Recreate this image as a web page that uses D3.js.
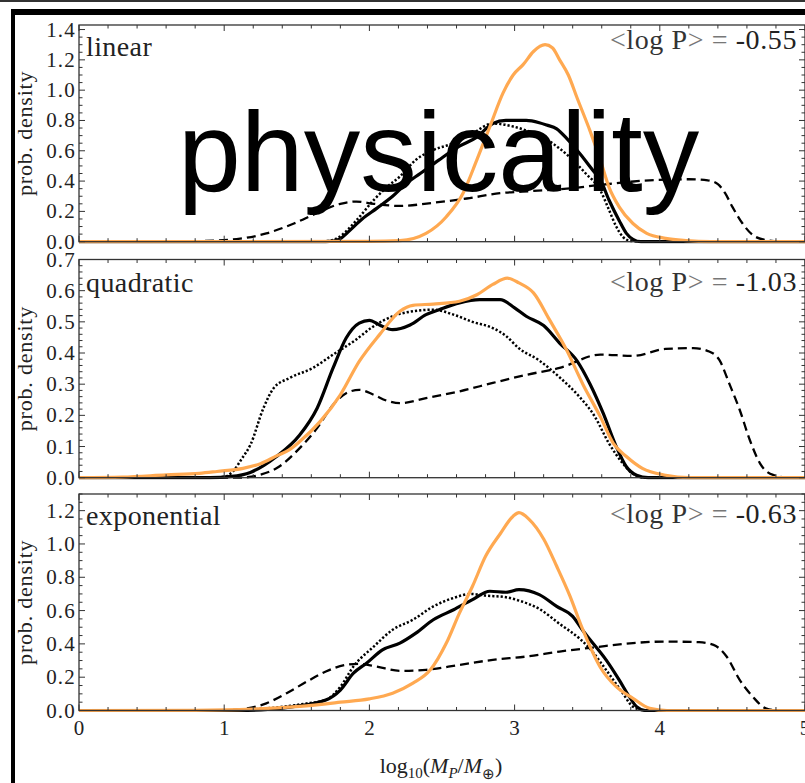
<!DOCTYPE html>
<html><head><meta charset="utf-8">
<script src="https://cdn.jsdelivr.net/npm/d3@7"></script>
<style>body{margin:0;background:#fff}svg{display:block}</style>
</head><body>
<svg id="chart" width="805" height="783"></svg>
<script>
// ---------- data ----------
const xTickValues = [0, 1, 2, 3, 4, 5];
const panelNames = ["linear", "quadratic", "exponential"];
const meanLogP = ["-0.55", "-1.03", "-0.63"];
const yDomainMax = [1.43, 0.7, 1.3];
const yMajorStep = [0.2, 0.1, 0.2];
const yMajorMax = [1.4, 0.7, 1.2];
const yMinorStep = [0.05, 0.02, 0.05];

const linearDashed = [[0,0],[0.6,0],[0.83,0.004],[1.11,0.02],[1.29,0.055],[1.48,0.12],[1.64,0.19],[1.80,0.25],[1.91,0.265],[2.03,0.25],[2.21,0.236],[2.44,0.257],[2.67,0.285],[2.90,0.32],[3.13,0.335],[3.36,0.35],[3.59,0.375],[3.93,0.405],[4.20,0.412],[4.33,0.405],[4.40,0.38],[4.45,0.32],[4.50,0.23],[4.57,0.12],[4.64,0.044],[4.73,0.011],[4.85,0],[5,0]];
const linearDotted = [[0,0],[1.6,0],[1.72,0.005],[1.79,0.03],[1.91,0.14],[2.03,0.275],[2.12,0.36],[2.21,0.43],[2.32,0.54],[2.44,0.605],[2.58,0.65],[2.71,0.715],[2.85,0.78],[2.99,0.76],[3.13,0.715],[3.26,0.65],[3.36,0.575],[3.49,0.45],[3.59,0.34],[3.65,0.21],[3.70,0.10],[3.745,0.033],[3.80,0.005],[3.9,0],[5,0]];
const linearSolid = [[0,0],[1.65,0],[1.75,0.004],[1.80,0.02],[1.86,0.07],[1.95,0.15],[2.05,0.22],[2.16,0.30],[2.255,0.385],[2.35,0.45],[2.48,0.54],[2.62,0.63],[2.74,0.69],[2.85,0.78],[2.94,0.80],[3.08,0.80],[3.17,0.785],[3.22,0.77],[3.29,0.745],[3.36,0.68],[3.45,0.58],[3.54,0.47],[3.59,0.41],[3.65,0.275],[3.72,0.14],[3.77,0.055],[3.815,0.016],[3.87,0],[5,0]];
const linearOrange = [[0,0],[2.0,0.002],[2.21,0.007],[2.39,0.055],[2.53,0.165],[2.645,0.32],[2.74,0.54],[2.83,0.76],[2.92,0.98],[2.99,1.10],[3.06,1.17],[3.13,1.255],[3.21,1.30],[3.26,1.28],[3.31,1.20],[3.37,1.10],[3.43,0.95],[3.52,0.73],[3.59,0.54],[3.65,0.36],[3.72,0.23],[3.815,0.12],[3.91,0.055],[4.04,0.022],[4.18,0.007],[4.35,0],[5,0]];

const quadDashed = [[0,0],[1.1,0],[1.25,0.01],[1.36,0.03],[1.52,0.095],[1.64,0.159],[1.75,0.234],[1.84,0.271],[1.93,0.282],[2.03,0.266],[2.12,0.247],[2.21,0.239],[2.39,0.255],[2.62,0.277],[2.85,0.304],[3.08,0.33],[3.31,0.352],[3.59,0.395],[3.815,0.391],[4.04,0.413],[4.23,0.416],[4.34,0.405],[4.41,0.378],[4.48,0.30],[4.55,0.218],[4.62,0.121],[4.69,0.046],[4.78,0.009],[4.9,0],[5,0]];
const quadDotted = [[0,0],[0.9,0],[1.0,0.003],[1.06,0.02],[1.12,0.06],[1.18,0.105],[1.27,0.223],[1.34,0.287],[1.45,0.32],[1.61,0.352],[1.75,0.395],[1.89,0.437],[2.03,0.486],[2.16,0.518],[2.30,0.534],[2.44,0.539],[2.58,0.523],[2.71,0.50],[2.85,0.48],[2.94,0.455],[3.03,0.415],[3.17,0.376],[3.31,0.322],[3.44,0.263],[3.55,0.198],[3.65,0.11],[3.745,0.046],[3.815,0.012],[3.9,0],[5,0]];
const quadSolid = [[0,0],[0.9,0],[1.05,0.004],[1.18,0.017],[1.36,0.068],[1.52,0.137],[1.64,0.223],[1.75,0.352],[1.84,0.448],[1.93,0.496],[2.00,0.505],[2.07,0.49],[2.16,0.475],[2.28,0.49],[2.39,0.523],[2.48,0.539],[2.62,0.561],[2.76,0.571],[2.90,0.571],[3.00,0.545],[3.08,0.518],[3.20,0.488],[3.31,0.432],[3.43,0.375],[3.52,0.30],[3.61,0.207],[3.70,0.10],[3.77,0.035],[3.84,0.008],[3.92,0],[5,0]];
const quadOrange = [[0,0],[0.3,0.002],[0.6,0.009],[0.83,0.014],[0.95,0.02],[1.13,0.03],[1.25,0.045],[1.36,0.07],[1.45,0.09],[1.52,0.116],[1.66,0.18],[1.80,0.266],[1.93,0.373],[2.07,0.459],[2.21,0.534],[2.30,0.553],[2.44,0.557],[2.62,0.566],[2.74,0.587],[2.85,0.62],[2.95,0.64],[3.03,0.625],[3.13,0.593],[3.24,0.507],[3.36,0.408],[3.47,0.30],[3.59,0.196],[3.68,0.11],[3.77,0.068],[3.88,0.03],[4.04,0.008],[4.2,0],[5,0]];

const expDashed = [[0,0],[0.9,0],[1.06,0.004],[1.29,0.043],[1.43,0.104],[1.57,0.174],[1.70,0.234],[1.84,0.274],[1.93,0.28],[2.05,0.264],[2.21,0.238],[2.39,0.244],[2.62,0.274],[2.85,0.304],[3.08,0.324],[3.31,0.354],[3.54,0.378],[3.815,0.405],[4.04,0.414],[4.27,0.41],[4.37,0.394],[4.46,0.324],[4.55,0.184],[4.64,0.083],[4.73,0.013],[4.82,0],[5,0]];
const expDotted = [[0,0],[1.0,0],[1.1,0.003],[1.41,0.023],[1.55,0.04],[1.70,0.063],[1.80,0.143],[1.89,0.264],[2.03,0.384],[2.16,0.485],[2.30,0.545],[2.44,0.625],[2.58,0.676],[2.70,0.70],[2.80,0.69],[2.94,0.68],[3.03,0.66],[3.17,0.61],[3.31,0.52],[3.45,0.43],[3.52,0.37],[3.63,0.244],[3.745,0.104],[3.815,0.023],[3.9,0],[5,0]];
const expSolid = [[0,0],[1.1,0],[1.3,0.006],[1.475,0.023],[1.70,0.063],[1.80,0.123],[1.89,0.224],[1.98,0.284],[2.09,0.364],[2.21,0.405],[2.32,0.465],[2.44,0.545],[2.58,0.605],[2.71,0.666],[2.83,0.716],[2.94,0.71],[3.03,0.726],[3.17,0.696],[3.29,0.625],[3.40,0.565],[3.47,0.48],[3.52,0.425],[3.63,0.304],[3.72,0.184],[3.79,0.083],[3.84,0.023],[3.9,0],[5,0]];
const expOrange = [[0,0],[0.8,0.001],[1.2,0.008],[1.52,0.025],[1.80,0.05],[2.00,0.07],[2.16,0.104],[2.30,0.164],[2.42,0.244],[2.53,0.405],[2.62,0.585],[2.71,0.746],[2.80,0.926],[2.90,1.06],[2.99,1.167],[3.03,1.188],[3.10,1.148],[3.20,1.03],[3.29,0.866],[3.38,0.69],[3.47,0.485],[3.59,0.26],[3.70,0.143],[3.815,0.073],[3.93,0.013],[4.05,0],[5,0]];

const panelSeries = [
  [linearDashed, linearDotted, linearSolid, linearOrange],
  [quadDashed, quadDotted, quadSolid, quadOrange],
  [expDashed, expDotted, expSolid, expOrange]
];

// ---------- layout / style ----------
const W = 805, H = 783;
const plotLeft = 79, plotRight = 805;
const panelBox = [[25, 241.7], [259.5, 477.7], [494, 710.5]];
const seriesStyle = [
  {stroke: "#000", width: 2.3, dash: "9,5"},
  {stroke: "#000", width: 2.5, dash: "2.2,2"},
  {stroke: "#000", width: 3.2, dash: null},
  {stroke: "#ffa951", width: 3.2, dash: null}
];
const serif = "'Liberation Serif','Times New Roman',serif";
const frameColor = "#333";

const svg = d3.select("#chart");
svg.append("rect").attr("width", W).attr("height", H).attr("fill", "#fff");

const x = d3.scaleLinear().domain([0, 5]).range([plotLeft, plotRight]);

const defs = svg.append("defs");

panelSeries.forEach((series, i) => {
  const [top, bottom] = panelBox[i];
  const y = d3.scaleLinear().domain([0, yDomainMax[i]]).range([bottom, top]);
  const g = svg.append("g");

  defs.append("clipPath").attr("id", "clip" + i)
    .append("rect").attr("x", plotLeft).attr("y", top - 2)
    .attr("width", plotRight - plotLeft).attr("height", bottom - top + 4);

  // curves
  const line = d3.line().x(d => x(d[0])).y(d => y(d[1])).curve(d3.curveMonotoneX);
  const cg = g.append("g").attr("clip-path", `url(#clip${i})`);
  series.forEach((s, k) => {
    const st = seriesStyle[k];
    cg.append("path").datum(s).attr("d", line)
      .attr("fill", "none").attr("stroke", st.stroke)
      .attr("stroke-width", st.width)
      .attr("stroke-linejoin", "round")
      .attr("stroke-dasharray", st.dash);
  });

  // frame
  g.append("rect").attr("x", plotLeft).attr("y", top)
    .attr("width", plotRight - plotLeft).attr("height", bottom - top)
    .attr("fill", "none").attr("stroke", frameColor).attr("stroke-width", 1.3);

  // x ticks (top and bottom, inward)
  const xMinor = d3.range(0, 5.0001, 0.2).filter(v => Math.abs(v - Math.round(v)) > 1e-6);
  const tickG = g.append("g").attr("stroke", frameColor).attr("stroke-width", 1);
  xTickValues.forEach(v => {
    tickG.append("line").attr("x1", x(v)).attr("x2", x(v)).attr("y1", bottom).attr("y2", bottom - 6);
    tickG.append("line").attr("x1", x(v)).attr("x2", x(v)).attr("y1", top).attr("y2", top + 6);
  });
  xMinor.forEach(v => {
    tickG.append("line").attr("x1", x(v)).attr("x2", x(v)).attr("y1", bottom).attr("y2", bottom - 3.5);
    tickG.append("line").attr("x1", x(v)).attr("x2", x(v)).attr("y1", top).attr("y2", top + 3.5);
  });

  // y ticks
  const majors = d3.range(0, yMajorMax[i] + 1e-6, yMajorStep[i]);
  const minors = d3.range(0, yDomainMax[i] + 1e-6, yMinorStep[i])
    .filter(v => majors.every(m => Math.abs(m - v) > 1e-6));
  majors.forEach(v => {
    tickG.append("line").attr("x1", plotLeft).attr("x2", plotLeft + 6).attr("y1", y(v)).attr("y2", y(v));
    tickG.append("line").attr("x1", plotRight).attr("x2", plotRight - 6).attr("y1", y(v)).attr("y2", y(v));
  });
  minors.forEach(v => {
    tickG.append("line").attr("x1", plotLeft).attr("x2", plotLeft + 3.5).attr("y1", y(v)).attr("y2", y(v));
    tickG.append("line").attr("x1", plotRight).attr("x2", plotRight - 3.5).attr("y1", y(v)).attr("y2", y(v));
  });

  // y tick labels
  g.append("g").selectAll("text").data(majors).join("text")
    .attr("x", 76).attr("y", v => y(v) + 7)
    .attr("text-anchor", "end")
    .attr("font-family", serif).attr("font-size", 21)
    .attr("letter-spacing", 1.2).attr("fill", "#222")
    .text(v => v.toFixed(1));

  // y axis label
  g.append("text")
    .attr("transform", `translate(32,${(top + bottom) / 2}) rotate(-90)`)
    .attr("text-anchor", "middle")
    .attr("font-family", serif).attr("font-size", 22)
    .attr("letter-spacing", 0.8).attr("fill", "#222")
    .text("prob. density");

  // panel name
  const nameBase = [56, 292, 525][i];
  g.append("text").attr("x", 86).attr("y", nameBase)
    .attr("font-family", serif).attr("font-size", 28)
    .attr("letter-spacing", 0.4).attr("fill", "#222")
    .text(panelNames[i]);

  // <log P> label
  const lpBase = [49, 291, 523][i];
  const lp = g.append("text").attr("x", 797).attr("y", lpBase)
    .attr("text-anchor", "end")
    .attr("font-family", serif).attr("font-size", 28)
    .attr("letter-spacing", 0.6);
  lp.append("tspan").attr("fill", "#777").text("<");
  lp.append("tspan").attr("fill", "#333").text("log P");
  lp.append("tspan").attr("fill", "#777").text(">");
  lp.append("tspan").attr("fill", "#777").text(" = ");
  lp.append("tspan").attr("fill", "#222").text(meanLogP[i]);

  // x tick labels on the bottom panel
  if (i === 2) {
    g.append("g").selectAll("text").data(xTickValues).join("text")
      .attr("x", v => x(v)).attr("y", 735)
      .attr("text-anchor", "middle")
      .attr("font-family", serif).attr("font-size", 21).attr("fill", "#222")
      .text(v => v);
  }
});

// x axis label
const xl = svg.append("text").attr("x", 441).attr("y", 773)
  .attr("text-anchor", "middle").attr("font-family", serif)
  .attr("font-size", 22).attr("fill", "#222");
xl.append("tspan").text("log");
xl.append("tspan").attr("font-size", 15).attr("dy", 5).text("10");
xl.append("tspan").attr("dy", -5).text("(");
xl.append("tspan").attr("font-style", "italic").text("M");
xl.append("tspan").attr("font-style", "italic").attr("font-size", 15).attr("dy", 5).text("P");
xl.append("tspan").attr("dy", -5).text("/");
xl.append("tspan").attr("font-style", "italic").text("M");
xl.append("tspan").attr("font-size", 15).attr("dy", 6).text("⊕");
xl.append("tspan").attr("dy", -6).text(")");

// big overlay word
svg.append("text").attr("x", 178).attr("y", 191)
  .attr("font-family", "'Liberation Sans',Arial,Helvetica,sans-serif")
  .attr("font-size", 113).attr("fill", "#000")
  .text("physicality");

// outer borders
svg.append("rect").attr("x", 0).attr("y", 0).attr("width", W).attr("height", 2).attr("fill", "#333");
svg.append("rect").attr("x", 11).attr("y", 9).attr("width", W - 11).attr("height", 6).attr("fill", "#000");
svg.append("rect").attr("x", 11).attr("y", 9).attr("width", 4).attr("height", H - 9).attr("fill", "#000");
</script>
</body></html>
